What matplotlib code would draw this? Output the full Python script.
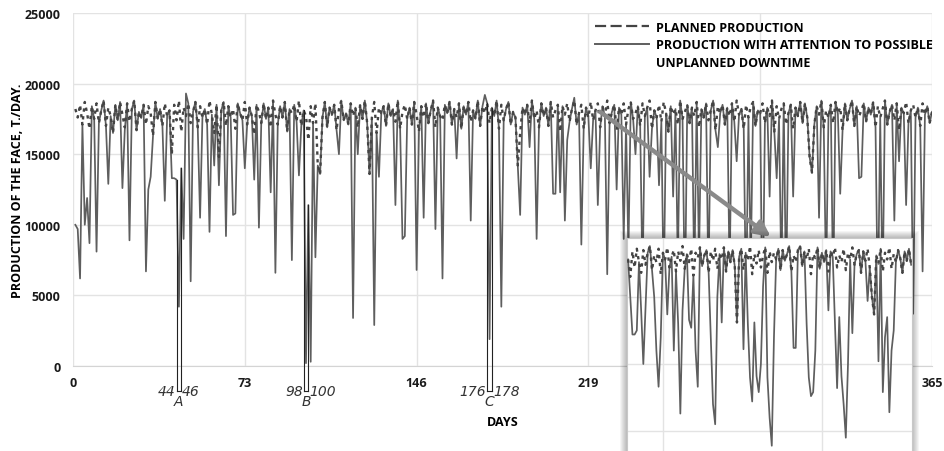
import numpy as np
import matplotlib
matplotlib.use('Agg')
import matplotlib.pyplot as plt
from matplotlib.lines import Line2D
from matplotlib.patches import Rectangle

plt.rcParams['font.family'] = ['Open Sans', 'DejaVu Sans']

# planned production, hundreds of t/day, days 1..365
PLANNED = [
    182, 176, 185, 171, 187, 179, 168, 184, 175, 186, 172, 181, 188, 170, 183, 177, 165, 185, 174, 187,
    178, 169, 186, 173, 182, 188, 167, 180, 176, 185, 171, 184, 179, 163, 187, 175, 182, 170, 186, 177,
    181, 150, 185, 174, 188, 166, 183, 177, 186, 172, 180, 187, 169, 184, 176, 182, 171, 188, 178, 165,
    185, 148, 181, 187, 170, 184, 176, 182, 168, 186, 179, 174, 187, 171, 183, 177, 164, 185, 180, 172,
    186, 175, 183, 169, 188, 178, 171, 184, 176, 187, 166, 182, 179, 185, 173, 188, 170, 181, 177, 160,
    184, 172, 186, 142, 136, 176, 187, 169, 183, 178, 185, 167, 182, 188, 174, 179, 171, 186, 177, 183,
    169, 185, 175, 188, 172, 136, 176, 187, 165, 183, 179, 184, 170, 186, 177, 182, 173, 188, 168, 180,
    185, 175, 183, 171, 187, 178, 166, 184, 176, 186, 172, 181, 188, 169, 183, 177, 174, 185, 179, 187,
    171, 182, 176, 186, 168, 184, 178, 187, 173, 181, 175, 188, 170, 184, 179, 186, 172, 183, 177, 188,
    168, 185, 174, 182, 187, 171, 180, 176, 142, 165, 183, 178, 185, 172, 188, 175, 181, 169, 186, 177,
    183, 170, 187, 176, 181, 185, 166, 184, 178, 186, 173, 182, 188, 171, 179, 185, 168, 183, 176, 187,
    174, 181, 186, 169, 184, 177, 188, 172, 180, 185, 167, 183, 178, 186, 171, 182, 187, 175, 179, 184,
    170, 186, 177, 183, 188, 168, 181, 176, 185, 173, 187, 179, 166, 184, 178, 182, 171, 188, 175, 180,
    185, 172, 183, 177, 187, 169, 182, 176, 186, 174, 181, 188, 167, 184, 179, 185, 171, 183, 177, 186,
    173, 188, 178, 182, 168, 185, 176, 184, 187, 170, 181, 179, 186, 172, 183, 177, 188, 166, 184, 175,
    182, 186, 171, 179, 185, 168, 183, 177, 187, 172, 186, 176, 148, 137, 171, 184, 178, 188, 169, 181,
    176, 185, 172, 187, 179, 183, 167, 186, 174, 182, 188, 170, 184, 177, 181, 186, 173, 183, 178, 187,
    169, 184, 176, 182, 188, 171, 180, 185, 174, 186, 167, 183, 179, 187, 172, 181, 185, 176, 183, 170,
    186, 178, 184, 172, 180,
]

# days with unplanned downtime and the production reached on them (hundreds of t)
DOWN_DAYS = [1, 2, 3, 5, 6, 7, 10, 15, 21, 22, 24, 31, 32, 33, 39, 42, 43, 44, 45, 46, 47, 48, 50, 54, 58,
             60, 62, 65, 68, 69, 73, 77, 79, 84, 86, 93, 96, 99, 100, 101, 103, 113, 119,
             121, 128, 130, 137, 140, 141, 146, 149, 154, 157, 163, 169, 175, 177,
             180, 182, 190, 194, 197, 204, 205, 207, 209, 210, 213, 216, 220, 223, 227, 231, 234,
             236, 239, 242, 245, 249, 251, 255, 257, 260, 264, 266, 270, 274, 279, 282, 286, 288, 293, 296,
             299, 301, 303, 306, 317, 320, 323, 326, 334, 335, 342, 344, 349, 351, 354, 357, 361]
DOWN_VALUES = [100, 97, 62, 100, 119, 87, 81, 129, 126, 167, 89, 67, 125, 134, 117, 133, 133, 132, 42, 140, 90, 193, 60, 105, 95,
               142, 128, 92, 107, 108, 140, 132, 98, 123, 66, 75, 135, 2, 114, 3, 77, 150, 34,
               150, 29, 134, 114, 90, 92, 68, 105, 97, 62, 147, 103, 192, 19,
               188, 42, 107, 155, 90, 122, 122, 123, 103, 160, 190, 86, 140, 114, 65, 125, 90,
               80, 150, 60, 134, 128, 50, 120, 70, 40, 60, 75, 55, 155, 65, 145, 40, 70, 30, 120,
               133, 60, 50, 120, 105, 60, 50, 122, 133, 134, 40, 50, 103, 145, 114, 37, 67]

# fragment shown in the inset (days 203..333)
INSET_START = 203
INSET_PLANNED = [
    178, 165, 184, 172, 186, 176, 168, 185, 174, 183, 188, 170, 181, 176, 186, 167, 183, 178, 187, 172,
    180, 185, 169, 184, 177, 188, 171, 182, 176, 186, 166, 183, 179, 187, 173, 181, 185, 168, 184, 177,
    186, 171, 182, 178, 187, 169, 184, 176, 185, 173, 131, 180, 186, 170, 183, 177, 188, 167, 182, 175,
    185, 172, 181, 187, 168, 184, 176, 183, 178, 186, 170, 185, 177, 182, 188, 169, 181, 176, 185, 188,
    173, 184, 178, 186, 167, 182, 179, 187, 171, 183, 176, 185, 169, 184, 180, 187, 172, 181, 176, 186,
    170, 183, 178, 187, 174, 182, 185, 168, 184, 177, 186, 172, 150, 137, 181, 175, 186, 169, 183, 178,
    187, 171, 182, 176, 185, 179, 168, 184, 177, 186, 174,
]
INSET_DOWN_DAYS = [204, 205, 206, 207, 209, 210, 211, 215, 216, 217, 218, 221, 224, 226, 227, 228, 231, 232,
                   234, 235, 241, 242, 243, 244, 246, 256, 258, 259, 260, 261, 262, 263, 264, 265, 267, 268,
                   269, 270, 279, 280, 282, 285, 286, 287, 288, 289, 295, 298, 299, 300, 301, 302, 303, 304,
                   306, 313, 318, 320, 321, 322, 323, 324, 325]
INSET_DOWN_VALUES = [150, 122, 122, 125, 140, 100, 142, 150, 110, 83, 120, 137, 110, 130, 63, 140, 133, 127,
                     110, 83, 120, 70, 55, 150, 131, 111, 130, 90, 72, 131, 91, 79, 100, 158, 90, 60,
                     39, 120, 112, 112, 188, 130, 90, 76, 79, 110, 140, 130, 82, 135, 91, 70, 45, 100,
                     123, 147, 102, 79, 120, 135, 64, 110, 125]

BRACKETS = [(44, 46, 'A'), (98, 100, 'B'), (176, 178, 'C')]

XTICKS = [0, 73, 146, 219, 292, 365]

LINE_C = '#5e5e5e'
DASH_C = '#444444'
GRID_C = '#e3e3e3'

planned = np.array(PLANNED) * 100.0
actual = planned.copy()
actual[np.array(DOWN_DAYS) - 1] = np.array(DOWN_VALUES) * 100.0
days = np.arange(1, len(planned) + 1)

in_planned = np.array(INSET_PLANNED) * 100.0
in_actual = in_planned.copy()
in_actual[np.array(INSET_DOWN_DAYS) - INSET_START] = np.array(INSET_DOWN_VALUES) * 100.0
in_days = np.arange(INSET_START, INSET_START + len(in_planned))

W, H = 944, 452
fig = plt.figure(figsize=(W / 100, H / 100), dpi=100)

def px_rect(x0, y0, x1, y1):
    # pixel box (top-left origin) -> figure fraction
    return [x0 / W, 1 - y1 / H, (x1 - x0) / W, (y1 - y0) / H]

ax = fig.add_axes(px_rect(73, 14, 932, 367))
ax.plot(days, actual, color=LINE_C, lw=1.25, zorder=3)
ax.plot(days, planned, color=DASH_C, lw=1.7, dashes=(1.4, 1.9), zorder=4)
ax.set_xlim(0, 365)
ax.set_ylim(0, 25000)
ax.set_xticks(XTICKS)
ax.set_yticks(range(0, 25001, 5000))
ax.grid(True, color=GRID_C, lw=1)
ax.set_axisbelow(True)
for s in ['top', 'right', 'left']:
    ax.spines[s].set_visible(False)
ax.spines['bottom'].set_color('#d4d4d4')
ax.tick_params(length=0, labelsize=9, colors='#1a1a1a')
ax.tick_params(axis='x', pad=7)
ax.tick_params(axis='y', pad=9)
for t in ax.get_xticklabels() + ax.get_yticklabels():
    t.set_fontweight('bold')
ax.set_xlabel('DAYS', fontsize=9, fontweight='bold', labelpad=19)
ax.set_ylabel('PRODUCTION OF THE FACE, T./DAY.', fontsize=9, fontweight='bold', labelpad=0)

# brackets marking downtime intervals
ybot = -1800
for d1, d2, letter in BRACKETS:
    for d in (d1, d2):
        ax.plot([d, d], [actual[d - 1], ybot], color='#222222', lw=0.8, clip_on=False, zorder=5)
    ax.plot([d1, d2], [ybot, ybot], color='#222222', lw=0.8, clip_on=False, zorder=5)
    kw = dict(fontsize=10, style='italic', color='#333333', family=['DejaVu Sans'],
              fontweight='light', clip_on=False)
    ax.text(d1 - 0.4, ybot, str(d1), ha='right', va='center', **kw)
    ax.text(d2 + 0.4, ybot, str(d2), ha='left', va='center', **kw)
    ax.text((d1 + d2) / 2, ybot - 150, letter, ha='center', va='top', **kw)

# arrow towards the inset
ax.annotate('', xy=(296.5, 9150), xytext=(224, 18000),
            arrowprops=dict(arrowstyle='-|>,head_length=0.9,head_width=0.45',
                            color='#8a8a8a', lw=3.2, shrinkA=0, shrinkB=0), zorder=6)

# legend (third row only continues the second label)
handles = [Line2D([], [], color=DASH_C, lw=1.6, dashes=(5, 2)),
           Line2D([], [], color=LINE_C, lw=1.4),
           Line2D([], [], color='none')]
labels = ['PLANNED PRODUCTION', 'PRODUCTION WITH ATTENTION TO POSSIBLE', 'UNPLANNED DOWNTIME']
leg = ax.legend(handles, labels, loc='upper left', bbox_to_anchor=(595 / W, 1 - 21.5 / H),
                bbox_transform=fig.transFigure, frameon=False, borderpad=0, borderaxespad=0,
                handlelength=4.3, handletextpad=0.55, labelspacing=0.38,
                prop={'size': 9, 'weight': 'bold'})

# inset with shadow
ix0, iy0, ix1, iy1 = 627, 239, 912, 499
for i in range(7, 0, -1):
    r = px_rect(ix0 - i, iy0 - i, ix1 + i, iy1)
    fig.add_artist(Rectangle((r[0], r[1]), r[2], r[3], transform=fig.transFigure,
                             facecolor='black', edgecolor='none', alpha=0.04, zorder=2))
axi = fig.add_axes(px_rect(ix0, iy0, ix1, iy1), zorder=5)
axi.set_facecolor('white')
axi.plot(in_days, in_actual, color=LINE_C, lw=1.25, zorder=3)
axi.plot(in_days, in_planned, color=DASH_C, lw=1.7, dashes=(1.4, 1.9), zorder=4)
axi.set_xlim(202.5, 333.4)
axi.set_ylim(0, 19400)
axi.set_xticks([219, 292])
axi.set_yticks([5000, 10000, 15000])
axi.grid(True, color=GRID_C, lw=1)
axi.set_axisbelow(True)
axi.tick_params(length=0, labelbottom=False, labelleft=False)
for s in axi.spines.values():
    s.set_color('#c8c8c8')
    s.set_linewidth(0.8)

fig.savefig('out.png', dpi=100)
